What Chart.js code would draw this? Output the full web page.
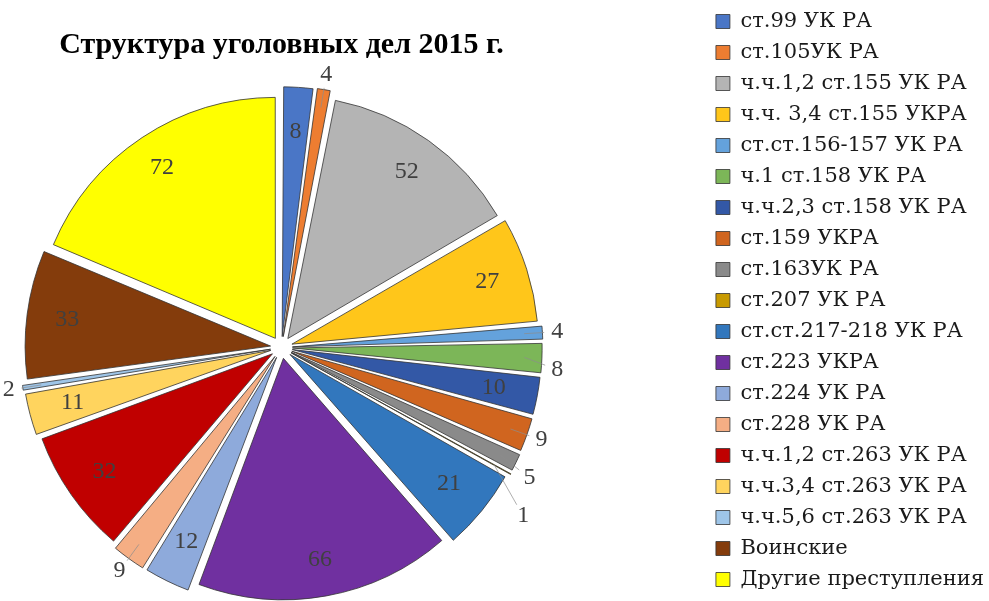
<!DOCTYPE html>
<html>
<head>
<meta charset="utf-8">
<script src="https://cdn.jsdelivr.net/npm/chart.js@4.4.1/dist/chart.umd.min.js"></script>
<style>
html,body{margin:0;padding:0;background:#fff}
#wrap{width:989px;height:601px;position:relative;overflow:hidden}
/* холст шире окна: так круг встаёт левее, а легенда остаётся справа */
#box{position:absolute;left:-143px;top:-9px;width:1137px;height:619px}
</style>
</head>
<body>
<div id="wrap"><div id="box"><canvas id="crimes2015"></canvas></div></div>
<script>
const articles = ["ст.99 УК РА","ст.105УК РА","ч.ч.1,2 ст.155 УК РА","ч.ч. 3,4 ст.155 УКРА",
  "ст.ст.156-157 УК РА","ч.1 ст.158 УК РА","ч.ч.2,3 ст.158 УК РА","ст.159 УКРА","ст.163УК РА",
  "ст.207 УК РА","ст.ст.217-218 УК РА","ст.223 УКРА","ст.224 УК РА","ст.228 УК РА",
  "ч.ч.1,2 ст.263 УК РА","ч.ч.3,4 ст.263 УК РА","ч.ч.5,6 ст.263 УК РА","Воинские","Другие преступления"];
const cases2015 = [8, 4, 52, 27, 4, 8, 10, 9, 5, 1, 21, 66, 12, 9, 32, 11, 2, 33, 72];
const sliceColors = ["#4a76c6","#ed7d31","#b4b4b4","#ffc61a","#64a2dc","#7cb658","#3358a6","#d0651f",
  "#8a8a8a","#c89a00","#3277bd","#7030a0","#8eaadb","#f5ae84","#c00000","#ffd45e","#9ec5e8","#843c0c","#ffff00"];

// эти подписываем снаружи круга
const outsideIdx = [1, 4, 5, 7, 8, 9, 13, 16];

const valueLabels = {
  id: 'valueLabels',
  afterDatasetsDraw(chart) {
    const ctx = chart.ctx;
    const meta = chart.getDatasetMeta(0);
    ctx.save();
    ctx.font = '24px "Liberation Serif"';
    ctx.fillStyle = '#404040';
    ctx.textAlign = 'center';
    ctx.textBaseline = 'middle';
    let lastRightY = -1000;
    meta.data.forEach((arc, i) => {
      const p = arc.getProps(['x','y','startAngle','endAngle','outerRadius']);
      const mid = (p.startAngle + p.endAngle) / 2;
      const out = outsideIdx.includes(i);
      const r = p.outerRadius * (out ? 1.15 : 0.9);
      let tx = p.x + Math.cos(mid) * r, ty = p.y + Math.sin(mid) * r;
      if (out) {
        // чтобы мелкие подписи справа не налезали друг на друга
        if (tx > p.x && ty > p.y - 40) {
          if (ty < lastRightY + 38) ty = lastRightY + 38;
          lastRightY = ty;
        }
        const ex = p.x + Math.cos(mid) * (p.outerRadius + 3);
        const ey = p.y + Math.sin(mid) * (p.outerRadius + 3);
        const dx = tx - ex, dy = ty - ey, len = Math.hypot(dx, dy);
        if (len > 18) {
          ctx.strokeStyle = '#8c8c8c';
          ctx.lineWidth = 0.7;
          ctx.beginPath();
          ctx.moveTo(ex, ey);
          ctx.lineTo(tx - dx / len * 13, ty - dy / len * 13);
          ctx.stroke();
        }
      }
      ctx.fillText(String(cases2015[i]), tx, ty);
    });
    ctx.restore();
  }
};

const crimeChart = new Chart(document.getElementById("crimes2015"), {
  type: 'pie',
  data: {
    labels: articles,
    datasets: [{
      data: cases2015,
      backgroundColor: sliceColors,
      borderColor: '#333333',
      borderWidth: 0.8,
      offset: 44
    }]
  },
  options: {
    responsive: true,
    maintainAspectRatio: false,
    animation: false,
    layout: { padding: 0 },
    plugins: {
      title: {
        display: true,
        text: 'Структура уголовных дел 2015 г.',
        fullSize: false,
        color: '#000',
        font: { family: '"Liberation Serif"', size: 30, weight: 'bold' },
        padding: { top: 36, bottom: 22 }
      },
      legend: {
        position: 'right',
        labels: {
          color: '#1a1a1a',
          font: { family: '"DejaVu Serif"', size: 21 },
          boxWidth: 14,
          boxHeight: 14,
          padding: 10
        }
      },
      tooltip: { enabled: false }
    }
  },
  plugins: [valueLabels]
});
</script>
</body>
</html>
